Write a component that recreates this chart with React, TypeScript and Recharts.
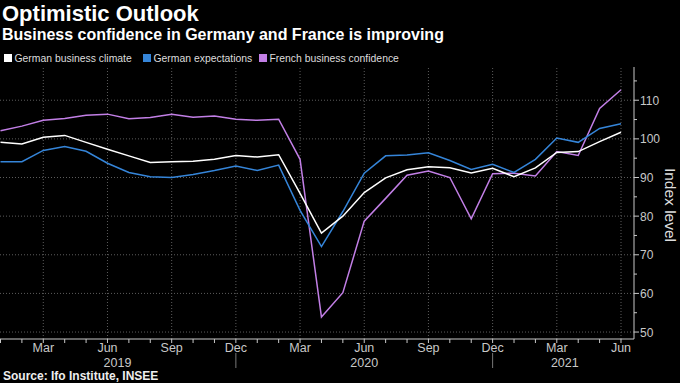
import { LineChart, Line, XAxis, YAxis, ReferenceLine } from 'recharts';

const months = [
  'Jan 2019', 'Feb 2019', 'Mar 2019', 'Apr 2019', 'May 2019', 'Jun 2019',
  'Jul 2019', 'Aug 2019', 'Sep 2019', 'Oct 2019', 'Nov 2019', 'Dec 2019',
  'Jan 2020', 'Feb 2020', 'Mar 2020', 'Apr 2020', 'May 2020', 'Jun 2020',
  'Jul 2020', 'Aug 2020', 'Sep 2020', 'Oct 2020', 'Nov 2020', 'Dec 2020',
  'Jan 2021', 'Feb 2021', 'Mar 2021', 'Apr 2021', 'May 2021', 'Jun 2021',
];

const germanClimate = [
  99.1, 98.7, 100.4, 100.9, 99.1, 97.3, 95.6, 93.9, 94.1, 94.2, 94.7, 95.7,
  95.3, 95.9, 85.9, 75.6, 80.0, 86.1, 89.9, 92.0, 92.8, 92.5, 91.2, 92.4,
  90.2, 92.5, 96.5, 96.7, 99.3, 101.7,
];

const germanExpectations = [
  94.1, 94.1, 97.0, 98.0, 96.8, 93.7, 91.3, 90.2, 90.0, 90.8, 91.8, 93.0,
  91.8, 93.2, 81.5, 72.1, 81.2, 91.1, 95.6, 95.8, 96.4, 94.4, 92.1, 93.4,
  91.3, 94.7, 100.2, 99.1, 102.7, 103.9,
];

const frenchConfidence = [
  102.1, 103.3, 104.8, 105.3, 106.1, 106.4, 105.2, 105.5, 106.4, 105.6, 105.9, 105.1,
  104.8, 105.1, 94.7, 53.9, 60.2, 78.7, 84.6, 90.6, 91.7, 90.0, 79.3, 91.0,
  91.1, 90.4, 96.7, 95.7, 107.9, 112.7,
];

const yTicks = [50, 55, 60, 65, 70, 75, 80, 85, 90, 95, 100, 105, 110, 115];
const yGrid = [50, 60, 70, 80, 90, 100, 110];
const labelledMonths = ['Mar', 'Jun', 'Sep', 'Dec'];
const gridMonths = [
  'Mar 2019', 'Jun 2019', 'Sep 2019', 'Dec 2019', 'Mar 2020', 'Jun 2020',
  'Sep 2020', 'Dec 2020', 'Mar 2021', 'Jun 2021',
];
const yearLabels = [
  { year: '2019', at: 'Jun 2019', dx: 10 },
  { year: '2020', at: 'Jun 2020', dx: 0 },
  { year: '2021', at: 'Mar 2021', dx: 8 },
];
const yearBreaks = ['Dec 2019', 'Dec 2020'];

const data = months.map((m, i) => ({
  month: m,
  climate: germanClimate[i],
  expectations: germanExpectations[i],
  french: frenchConfidence[i],
}));

const WHITE = '#ffffff';
const BLUE = '#3585d9';
const PURPLE = '#c27fe6';
const AXIS = '#c8c8c8';
const GRID = '#5c5c5c';
const FONT = '"Liberation Sans", Arial, sans-serif';

function MonthTick(props: any) {
  const { x, y, payload } = props;
  const mon = payload.value.split(' ')[0];
  const yl = yearLabels.find((l) => l.at === payload.value);
  return (
    <g>
      <line x1={x} x2={x} y1={y} y2={y + 4} stroke={AXIS} strokeWidth={1} />
      {labelledMonths.includes(mon) && (
        <text x={x} y={y + 13} textAnchor="middle" fill={AXIS} fontSize={12.5} fontFamily={FONT}>{mon}</text>
      )}
      {yl && (
        <text x={x + yl.dx} y={y + 28} textAnchor="middle" fill={AXIS} fontSize={12.5} fontFamily={FONT}>{yl.year}</text>
      )}
      {yearBreaks.includes(payload.value) && (
        <line x1={x} x2={x} y1={y + 14} y2={y + 29} stroke="#777" strokeWidth={1} />
      )}
    </g>
  );
}

function ValueTick(props: any) {
  const { x, y, payload } = props;
  const major = payload.value % 10 === 0;
  return (
    <g>
      <line x1={x} x2={x + (major ? 5 : 3)} y1={y} y2={y} stroke={AXIS} strokeWidth={1} />
      {major && (
        <text x={x + 6} y={y + 4.5} fill={AXIS} fontSize={12} fontFamily={FONT}>{payload.value}</text>
      )}
    </g>
  );
}

const legendItems = [
  { label: 'German business climate', color: WHITE, x: 4 },
  { label: 'German expectations', color: BLUE, x: 143 },
  { label: 'French business confidence', color: PURPLE, x: 259 },
];

export default function App() {
  return (
    <div style={{ position: 'absolute', left: 0, top: 0, width: 680, height: 383, background: '#000', overflow: 'hidden' }}>
      <LineChart width={680} height={383} data={data} margin={{ top: 67, right: 0, left: 0, bottom: 0 }}>
        {yGrid.map((v) => (
          <ReferenceLine key={'h' + v} y={v} stroke={GRID} strokeDasharray="1 2" />
        ))}
        {gridMonths.map((m) => (
          <ReferenceLine key={'v' + m} x={m} stroke={GRID} strokeDasharray="1 2" />
        ))}
        <XAxis
          dataKey="month"
          height={44}
          interval={0}
          padding={{ left: 0.5, right: 13 }}
          tickSize={0}
          tickMargin={0}
          tickLine={false}
          axisLine={{ stroke: AXIS }}
          tick={<MonthTick />}
        />
        <YAxis
          orientation="right"
          width={46}
          type="number"
          domain={[48.2, 118.6]}
          allowDataOverflow
          ticks={yTicks}
          interval={0}
          tickSize={0}
          tickMargin={0}
          tickLine={false}
          axisLine={{ stroke: AXIS }}
          tick={<ValueTick />}
        />
        <Line type="linear" dataKey="french" stroke={PURPLE} strokeWidth={1.5} dot={false} isAnimationActive={false} />
        <Line type="linear" dataKey="expectations" stroke={BLUE} strokeWidth={1.5} dot={false} isAnimationActive={false} />
        <Line type="linear" dataKey="climate" stroke={WHITE} strokeWidth={1.5} dot={false} isAnimationActive={false} />
      </LineChart>
      <svg width={680} height={383} style={{ position: 'absolute', left: 0, top: 0, pointerEvents: 'none' }}>
        <text x={2} y={20.7} fill="#fff" fontSize={22} fontWeight="bold" fontFamily={FONT}>Optimistic Outlook</text>
        <text x={2} y={40} fill="#fff" fontSize={16} fontWeight="bold" fontFamily={FONT}>Business confidence in Germany and France is improving</text>
        {legendItems.map((it) => (
          <g key={it.label}>
            <rect x={it.x} y={54} width={8} height={8} fill={it.color} />
            <text x={it.x + 10.5} y={61.7} fill="#ddd" fontSize={10.4} fontFamily={FONT}>{it.label}</text>
          </g>
        ))}
        <text x={665} y={205} transform="rotate(90 665 205)" textAnchor="middle" fill="#ddd" fontSize={15.5} fontFamily={FONT}>Index level</text>
        <text x={3} y={380} fill="#eee" fontSize={12} fontWeight="bold" fontFamily={FONT}>Source: Ifo Institute, INSEE</text>
      </svg>
    </div>
  );
}
